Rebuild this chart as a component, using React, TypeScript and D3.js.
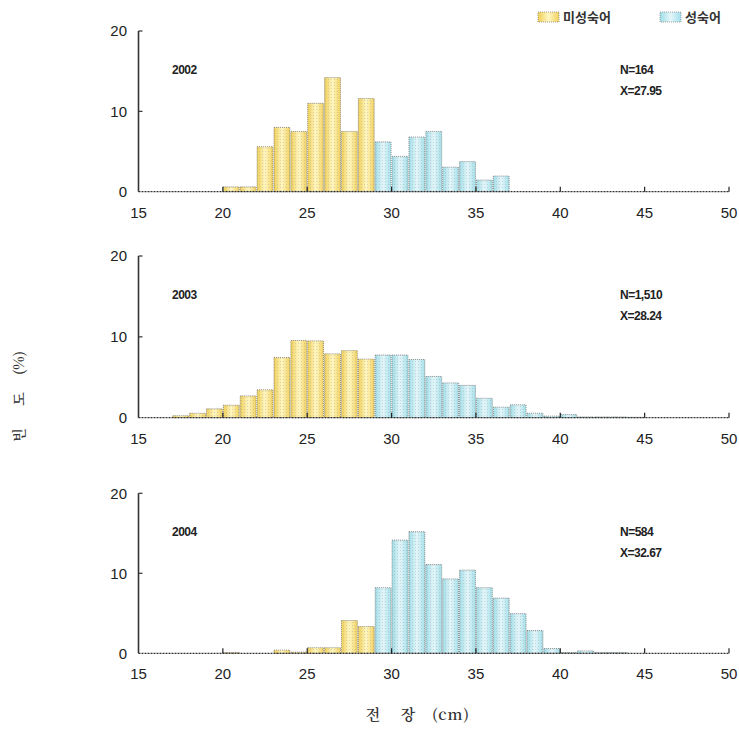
import React from "react";
import * as d3 from "d3";

const binStarts = [15,16,17,18,19,20,21,22,23,24,25,26,27,28,29,30,31,32,33,34,35,36,37,38,39,40,41,42,43,44];
const matureFrom = 29;
const years = ["2002", "2003", "2004"];
const nLabels = ["N=164", "N=1,510", "N=584"];
const meanLabels = ["X=27.95", "X=28.24", "X=32.67"];
const values2002 = [0,0,0,0,0,0.6,0.6,5.6,8.0,7.5,11.0,14.2,7.5,11.6,6.2,4.4,6.8,7.5,3.05,3.75,1.45,1.95,0,0,0,0,0,0,0,0];
const values2003 = [0,0,0.25,0.55,1.1,1.55,2.7,3.45,7.45,9.55,9.5,7.9,8.3,7.25,7.75,7.75,7.2,5.1,4.3,4.0,2.4,1.3,1.6,0.55,0.2,0.4,0.1,0.1,0.1,0.05];
const values2004 = [0,0,0,0,0,0.1,0,0,0.4,0.15,0.7,0.7,4.1,3.35,8.2,14.15,15.2,11.1,9.3,10.4,8.2,6.9,4.95,2.85,0.6,0.1,0.3,0.1,0.1,0];
const xTicks = [15,20,25,30,35,40,45,50];
const yTicks = [0,10,20];
const legendLabels = ["미성숙어", "성숙어"];
const yTitleParts = ["빈", "도", "(%)"];
const xTitleParts = ["전", "장", "(cm)"];

const seriesList = [values2002, values2003, values2004];
const panelY = [
  { bottom: 191.7, top: 31 },
  { bottom: 417.7, top: 256 },
  { bottom: 653.3, top: 493.3 },
];

const x = d3.scaleLinear().domain([15, 50]).range([138.5, 729]);
const FONT = "Arial, 'Liberation Sans', sans-serif";
const KFONT = "'Noto Serif CJK KR', 'Noto Sans CJK KR', serif";

function Panel({ idx }: { idx: number }) {
  const { bottom, top } = panelY[idx];
  const y = d3.scaleLinear().domain([0, 20]).range([bottom, top]);
  const vals = seriesList[idx];
  return (
    <g>
      {binStarts.map((b, i) => {
        const v = vals[i];
        if (!v) return null;
        const x0 = x(b) + 0.5;
        const x1 = x(b + 1) - 0.5;
        const mature = b >= matureFrom;
        return (
          <g key={b}>
            <rect x={x0} y={y(v)} width={x1 - x0} height={y(0) - y(v)}
              fill={mature ? "url(#gBlue)" : "url(#gYel)"} />
            <rect x={x0} y={y(v)} width={x1 - x0} height={y(0) - y(v)}
              fill="url(#dots)" />
            <rect x={x0} y={y(v)} width={x1 - x0} height={y(0) - y(v)}
              fill="none" stroke="#777" strokeWidth={0.8} strokeDasharray="1,1" />
          </g>
        );
      })}
      <line x1={x(15)} x2={x(50)} y1={y(0)} y2={y(0)} stroke="#333" strokeWidth={1.2} strokeDasharray="2,1" />
      {xTicks.slice(1).map((t) => (
        <line key={t} x1={x(t)} x2={x(t)} y1={y(0)} y2={y(0) - 5} stroke="#222" strokeWidth={1.2} />
      ))}
      <line x1={x(15)} x2={x(15)} y1={y(0)} y2={y(20)} stroke="#333" strokeWidth={1.6} />
      {yTicks.slice(1).map((t) => (
        <line key={t} x1={x(15)} x2={x(15) + 4} y1={y(t)} y2={y(t)} stroke="#333" strokeWidth={1.2} />
      ))}
      {yTicks.map((t) => (
        <text key={t} x={127} y={y(t)} dy="0.36em" textAnchor="end" fontSize={15} fontFamily={FONT} fill="#222">{t}</text>
      ))}
      {xTicks.map((t) => (
        <text key={t} x={x(t)} y={y(0) + 26} textAnchor="middle" fontSize={15} fontFamily={FONT} fill="#222">{t}</text>
      ))}
      <text x={172} y={y(20) + 43} fontSize={12} fontWeight="bold" fontFamily={FONT} fill="#222" letterSpacing={-0.5}>{years[idx]}</text>
      <text x={620} y={y(20) + 43} fontSize={12} fontWeight="bold" fontFamily={FONT} fill="#222" letterSpacing={-0.5}>{nLabels[idx]}</text>
      <text x={620} y={y(20) + 64} fontSize={12} fontWeight="bold" fontFamily={FONT} fill="#222" letterSpacing={-0.5}>{meanLabels[idx]}</text>
    </g>
  );
}

export default function App() {
  const yTitleCenters = [435, 399, 363];
  const xTitleX = [373, 408, 451];
  return (
    <svg width={739} height={732} style={{ position: "absolute", left: 0, top: 0, background: "#fff" }}>
      <defs>
        <linearGradient id="gYel" x1="0" x2="1" y1="0" y2="0">
          <stop offset="0" stopColor="#f0cf55" />
          <stop offset="0.5" stopColor="#fff6c2" />
          <stop offset="1" stopColor="#f2d25e" />
        </linearGradient>
        <linearGradient id="gBlue" x1="0" x2="1" y1="0" y2="0">
          <stop offset="0" stopColor="#9fdde8" />
          <stop offset="0.5" stopColor="#e4f6fa" />
          <stop offset="1" stopColor="#a4e0ea" />
        </linearGradient>
        <pattern id="dots" width={3} height={3} patternUnits="userSpaceOnUse">
          <rect x={1} y={1} width={1} height={1} fill="#999" opacity={0.35} />
        </pattern>
      </defs>
      {[0, 1, 2].map((i) => <Panel key={i} idx={i} />)}
      <rect x={538} y={12} width={21} height={10} fill="url(#gYel)" stroke="#888" strokeWidth={0.8} strokeDasharray="1,1" />
      <text x={563} y={21.5} fontSize={13} fontWeight="bold" fontFamily="'Noto Sans CJK KR', sans-serif" fill="#333">{legendLabels[0]}</text>
      <rect x={660} y={12} width={21} height={10} fill="url(#gBlue)" stroke="#888" strokeWidth={0.8} strokeDasharray="1,1" />
      <text x={685} y={21.5} fontSize={13} fontWeight="bold" fontFamily="'Noto Sans CJK KR', sans-serif" fill="#333">{legendLabels[1]}</text>
      {yTitleParts.map((p, i) => (
        <text key={p} transform={`translate(19,${yTitleCenters[i]}) rotate(-90)`} textAnchor="middle" dy="0.35em"
          fontSize={14} fontWeight={600} fontFamily={KFONT} fill="#333">{p}</text>
      ))}
      {xTitleParts.map((p, i) => (
        <text key={p} x={xTitleX[i]} y={720} textAnchor="middle" fontSize={15} fontWeight={600} fontFamily={KFONT} fill="#333"
          letterSpacing={i === 2 ? 1 : 0}>{p}</text>
      ))}
    </svg>
  );
}
